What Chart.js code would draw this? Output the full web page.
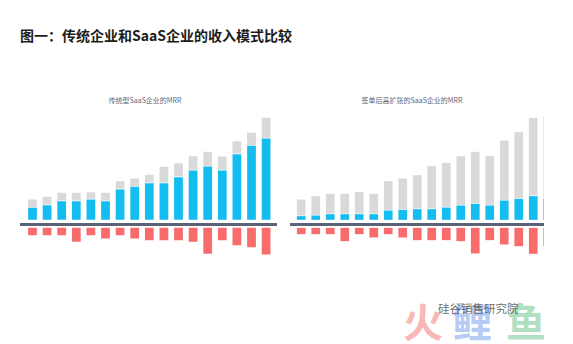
<!DOCTYPE html>
<html>
<head>
<meta charset="utf-8">
<script src="https://cdn.jsdelivr.net/npm/chart.js@4.4.1/dist/chart.umd.min.js"></script>
<style>
  body { margin: 0; width: 573px; height: 344px; background: #fff; position: relative; overflow: hidden;
         font-family: "Noto Sans CJK SC", "Noto Sans", sans-serif; }
  .title { position: absolute; left: 20px; top: 26px; font-size: 14px; font-weight: bold; color: #1c1c1c; line-height: 18px; white-space: nowrap; }
  .sub { position: absolute; top: 95px; font-size: 7px; color: #5d6577; line-height: 10px; white-space: nowrap; transform: translateX(-50%); }
  .box { position: absolute; top: 110px; height: 150px; }
  #leftBox { left: 20px; width: 257px; }
  #rightClip { position: absolute; left: 290px; top: 110px; width: 254px; height: 150px; overflow: hidden; }
  #rightBox { position: absolute; left: 0; top: 0; width: 265px; height: 150px; }
  .mark { position: absolute; font-weight: bold; line-height: 1; white-space: nowrap; }
</style>
</head>
<body>
<div class="title">图一：传统企业和SaaS企业的收入模式比较</div>
<div class="sub" style="left:145px">传统型SaaS企业的MRR</div>
<div class="sub" style="left:412px">签单后高扩张的SaaS企业的MRR</div>

<div class="box" id="leftBox"><canvas id="chart1"></canvas></div>
<div id="rightClip"><div id="rightBox"><canvas id="chart2"></canvas></div></div>

<div class="mark" style="left:403px; top:300px; font-size:40px; color:rgba(244,120,120,0.55)">火</div>
<div class="mark" style="left:452px; top:300px; font-size:40px; color:rgba(120,160,235,0.55)">鲤</div>
<div class="mark" style="left:506px; top:300px; font-size:40px; color:rgba(110,195,140,0.55)">鱼</div>
<div class="mark" style="left:438px; top:303px; font-size:11.5px; font-weight:normal; color:rgba(70,70,70,0.8)">硅谷销售研究院</div>

<script>
// monthly MRR split: new business (blue), expansion (gray), churn (red)
const months = ['1', '2', '3', '4', '5', '6', '7', '8', '9', '10', '11', '12', '13', '14', '15', '16', '17', '18'];

const classicNew = [36, 44, 56, 56, 61, 56, 91, 99, 110, 110, 128, 148, 160, 148, 197, 222, 244];
const classicExpansion = [25, 25, 25, 25, 22, 25, 25, 25, 25, 49, 42, 43, 44, 42, 39, 39, 62];
const classicChurn = [22, 22, 22, 42, 22, 32, 22, 32, 37, 37, 37, 42, 78, 37, 52, 58, 80];

const expandNew = [11, 13, 17, 17, 17, 17, 28, 30, 32, 32, 37, 43, 48, 43, 58, 63, 71, 63];
const expandExpansion = [50, 58, 61, 61, 67, 61, 88, 94, 102, 129, 134, 148, 156, 148, 180, 200, 235, 248];
const expandChurn = [19, 19, 19, 40, 19, 29, 19, 29, 37, 37, 37, 40, 77, 37, 50, 55, 78, 55];

const BLUE = '#14bdf0';
const GRAY = '#d9d9d9';
const RED = '#f96c6c';

const GAP_UP = 14;   // space between axis and positive bars
const GAP_DOWN = 10; // space between axis and churn bars
const SEP = 2;       // thin white seam between blue and gray

const zeroLine = {
    id: 'zeroLine',
    beforeDatasetsDraw(chart) {
        const y = chart.scales.y.getPixelForValue(0);
        const ctx = chart.ctx;
        ctx.save();
        ctx.fillStyle = '#5b6376';
        ctx.fillRect(0, y - 1.5, chart.width, 3);
        ctx.restore();
    }
};

function makeChart(canvas, newVals, expVals, churnVals, padLeft, padRight) {
    const labels = months.slice(0, newVals.length);
    const blue = newVals.map(v => [GAP_UP, GAP_UP + v]);
    const gray = newVals.map((v, i) => [GAP_UP + v + SEP, GAP_UP + v + expVals[i]]);
    const red = churnVals.map(v => [-GAP_DOWN, -GAP_DOWN - v]);

    const common = { grouped: false, borderWidth: 0, categoryPercentage: 1, barPercentage: 0.6 };

    return new Chart(canvas, {
        type: 'bar',
        data: {
            labels: labels,
            datasets: [
                Object.assign({ data: blue, backgroundColor: BLUE }, common),
                Object.assign({ data: gray, backgroundColor: GRAY }, common),
                Object.assign({ data: red, backgroundColor: RED }, common)
            ]
        },
        options: {
            responsive: true,
            maintainAspectRatio: false,
            animation: false,
            layout: { padding: { left: padLeft, right: padRight, top: 0, bottom: 0 } },
            plugins: { legend: { display: false }, tooltip: { enabled: false } },
            scales: {
                x: { display: false },
                y: { display: false, min: -106.5, max: 343.5 }
            }
        },
        plugins: [zeroLine]
    });
}

makeChart(document.getElementById('chart1'), classicNew, classicExpansion, classicChurn, 5.2, 3.6);
makeChart(document.getElementById('chart2'), expandNew, expandExpansion, expandChurn, 4, 0);
</script>
</body>
</html>
